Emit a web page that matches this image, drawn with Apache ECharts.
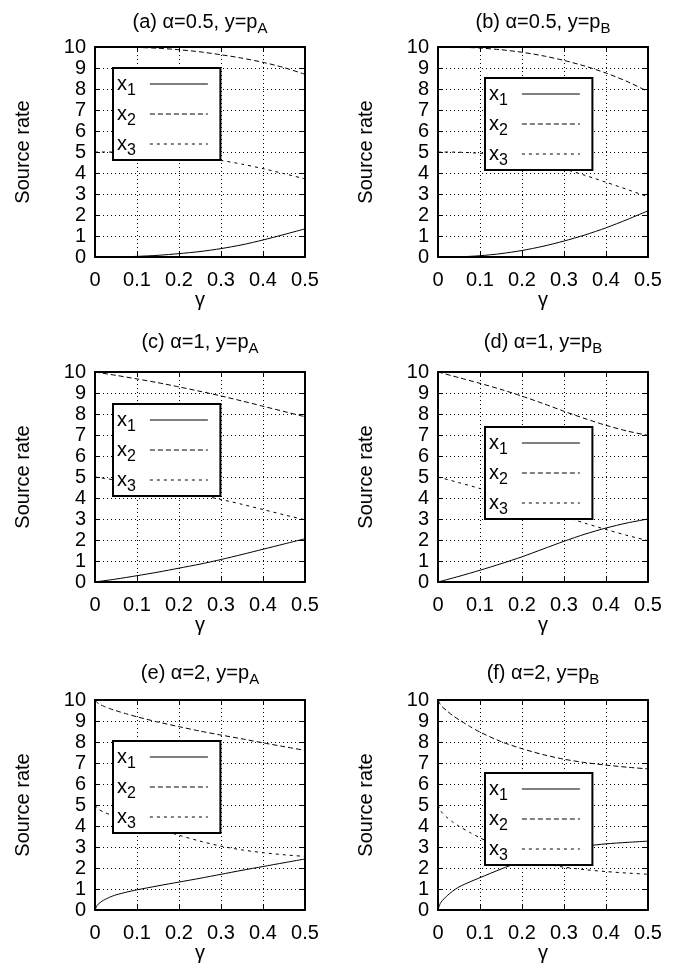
<!DOCTYPE html>
<html>
<head>
<meta charset="utf-8">
<script src="https://cdn.jsdelivr.net/npm/echarts@6/dist/echarts.min.js"></script>
<style>
html,body{margin:0;padding:0;background:#fff;}
#chart{width:686px;height:974px;}
</style>
</head>
<body>
<div id="chart"></div>
<script>
// ---------------- data ----------------
const panelTitles = [
  ['(a) α=0.5, y=p', 'A'],
  ['(b) α=0.5, y=p', 'B'],
  ['(c) α=1, y=p', 'A'],
  ['(d) α=1, y=p', 'B'],
  ['(e) α=2, y=p', 'A'],
  ['(f) α=2, y=p', 'B']
];
const seriesNames = ['x1', 'x2', 'x3'];
const xTickLabels = ['0', '0.1', '0.2', '0.3', '0.4', '0.5'];
const yTickLabels = ['0', '1', '2', '3', '4', '5', '6', '7', '8', '9', '10'];
const xAxisName = 'γ';
const yAxisName = 'Source rate';

// gamma sampling for panels a-d
const gammaAD = [0, 0.05, 0.1, 0.15, 0.2, 0.25, 0.3, 0.35, 0.4, 0.45, 0.5];
// gamma sampling for panels e-f (denser near 0)
const gammaEF = [0, 0.005, 0.01, 0.02, 0.035, 0.05, 0.075, 0.1, 0.15, 0.2, 0.25, 0.3, 0.35, 0.4, 0.45, 0.5];

const aX1 = [0, 0.005, 0.03, 0.08, 0.16, 0.26, 0.40, 0.58, 0.81, 1.07, 1.34];
const aX2 = [10, 9.995, 9.98, 9.94, 9.87, 9.77, 9.63, 9.47, 9.27, 9.02, 8.70];
const aX3 = [5, 4.995, 4.98, 4.93, 4.85, 4.74, 4.60, 4.42, 4.21, 3.97, 3.72];

const bX1 = [0, 0.01, 0.06, 0.16, 0.31, 0.51, 0.76, 1.05, 1.39, 1.78, 2.20];
const bX2 = [10, 9.99, 9.95, 9.87, 9.75, 9.58, 9.36, 9.09, 8.76, 8.36, 7.88];
const bX3 = [5, 4.99, 4.94, 4.84, 4.68, 4.46, 4.19, 3.89, 3.56, 3.22, 2.86];

const cX1 = [0, 0.14, 0.30, 0.47, 0.66, 0.85, 1.07, 1.31, 1.56, 1.81, 2.06];
const cX2 = [10, 9.84, 9.67, 9.49, 9.29, 9.08, 8.86, 8.62, 8.37, 8.12, 7.87];
const cX3 = [5, 4.85, 4.68, 4.51, 4.33, 4.14, 3.93, 3.70, 3.45, 3.20, 2.96];

const dX1 = [0, 0.27, 0.56, 0.87, 1.20, 1.57, 1.94, 2.28, 2.57, 2.81, 3.00];
const dX2 = [10, 9.73, 9.46, 9.17, 8.85, 8.50, 8.13, 7.78, 7.46, 7.19, 6.98];
const dX3 = [5, 4.73, 4.45, 4.13, 3.79, 3.45, 3.12, 2.80, 2.50, 2.22, 1.97];

const eX1 = [0, 0.22, 0.32, 0.46, 0.61, 0.72, 0.85, 0.96, 1.15, 1.33, 1.51, 1.70, 1.89, 2.07, 2.25, 2.43];
const eX2 = [10, 9.88, 9.81, 9.71, 9.59, 9.49, 9.34, 9.20, 8.95, 8.73, 8.52, 8.33, 8.15, 7.96, 7.78, 7.60];
const eX3 = [5, 4.86, 4.78, 4.67, 4.55, 4.45, 4.30, 4.16, 3.86, 3.56, 3.28, 3.04, 2.86, 2.73, 2.63, 2.55];

const fX1 = [0, 0.30, 0.44, 0.65, 0.90, 1.10, 1.33, 1.54, 1.95, 2.33, 2.65, 2.88, 3.04, 3.15, 3.22, 3.28];
const fX2 = [10, 9.80, 9.68, 9.50, 9.26, 9.06, 8.75, 8.47, 8.02, 7.68, 7.40, 7.18, 7.02, 6.90, 6.80, 6.72];
const fX3 = [5, 4.78, 4.63, 4.43, 4.19, 3.99, 3.70, 3.44, 2.94, 2.50, 2.22, 2.04, 1.92, 1.83, 1.76, 1.70];

const panelGamma = [gammaAD, gammaAD, gammaAD, gammaAD, gammaEF, gammaEF];
const panelValues = [
  [aX1, aX2, aX3],
  [bX1, bX2, bX3],
  [cX1, cX2, cX3],
  [dX1, dX2, dX3],
  [eX1, eX2, eX3],
  [fX1, fX2, fX3]
];

// ---------------- layout / style ----------------
const FONT = "'Liberation Sans', Arial, Helvetica, sans-serif";
const colLeft = [95, 438];
const rowTop = [47, 372, 700];
const rowTitleTop = [10, 330, 661];
const plotW = 210, plotH = 210;
const legendPos = [[113, 68], [485, 78], [113, 404], [485, 427], [113, 741], [485, 773]];
const lineTypes = ['solid', [5, 3], [3, 4]];

const grids = [], xAxes = [], yAxes = [], titles = [], legends = [], series = [];

for (let p = 0; p < 6; p++) {
  const col = p % 2, row = Math.floor(p / 2);
  grids.push({ left: colLeft[col], top: rowTop[row], width: plotW, height: plotH });
}
// bottom x axes
for (let p = 0; p < 6; p++) {
  xAxes.push({
    type: 'value', gridIndex: p, position: 'bottom', min: 0, max: 0.5, interval: 0.1,
    name: xAxisName, nameLocation: 'middle', nameGap: 31,
    nameTextStyle: { fontFamily: FONT, fontSize: 20, color: '#000' },
    axisLine: { onZero: false, lineStyle: { color: '#000', width: 2 } },
    axisTick: { inside: true, length: 5, lineStyle: { color: '#000', width: 1 } },
    axisLabel: { fontFamily: FONT, fontSize: 20, color: '#000', margin: 13,
      formatter: v => xTickLabels[Math.round(v * 10)] },
    splitLine: { show: true, lineStyle: { color: '#000', width: 1, type: [1, 3] } }
  });
}
// top x axes (frame + mirrored ticks)
for (let p = 0; p < 6; p++) {
  xAxes.push({
    type: 'value', gridIndex: p, position: 'top', min: 0, max: 0.5, interval: 0.1,
    axisLine: { onZero: false, lineStyle: { color: '#000', width: 2 } },
    axisTick: { inside: true, length: 5, lineStyle: { color: '#000', width: 1 } },
    axisLabel: { show: false }, splitLine: { show: false }
  });
}
// left y axes
for (let p = 0; p < 6; p++) {
  yAxes.push({
    type: 'value', gridIndex: p, position: 'left', min: 0, max: 10, interval: 1,
    name: yAxisName, nameLocation: 'middle', nameGap: 62, nameRotate: 90,
    nameTextStyle: { fontFamily: FONT, fontSize: 20, color: '#000' },
    axisLine: { onZero: false, lineStyle: { color: '#000', width: 2 } },
    axisTick: { inside: true, length: 5, lineStyle: { color: '#000', width: 1 } },
    axisLabel: { fontFamily: FONT, fontSize: 20, color: '#000', margin: 9,
      formatter: v => yTickLabels[Math.round(v)] },
    splitLine: { show: true, lineStyle: { color: '#000', width: 1, type: [1, 3] } }
  });
}
// right y axes
for (let p = 0; p < 6; p++) {
  yAxes.push({
    type: 'value', gridIndex: p, position: 'right', min: 0, max: 10, interval: 1,
    axisLine: { onZero: false, lineStyle: { color: '#000', width: 2 } },
    axisTick: { inside: true, length: 5, lineStyle: { color: '#000', width: 1 } },
    axisLabel: { show: false }, splitLine: { show: false }
  });
}

for (let p = 0; p < 6; p++) {
  const col = p % 2, row = Math.floor(p / 2);
  titles.push({
    text: '{m|' + panelTitles[p][0] + '}{s|' + panelTitles[p][1] + '}',
    left: colLeft[col] + plotW / 2, top: rowTitleTop[row], textAlign: 'center', padding: 0,
    textStyle: {
      fontFamily: FONT, fontSize: 20, color: '#000', fontWeight: 'normal', lineHeight: 24,
      rich: {
        m: { fontFamily: FONT, fontSize: 20, color: '#000', lineHeight: 24 },
        s: { fontFamily: FONT, fontSize: 15, color: '#000', height: 15, lineHeight: 24, padding: [13, 0, 0, 0] }
      }
    }
  });
  legends.push({
    orient: 'vertical', left: legendPos[p][0], top: legendPos[p][1],
    align: 'right', itemWidth: 58, itemHeight: 14, itemGap: 0,
    padding: [1, 12, 1, 4], selectedMode: false,
    backgroundColor: '#fff', borderColor: '#000', borderWidth: 2, borderRadius: 0,
    data: seriesNames,
    itemStyle: { color: 'rgba(0,0,0,0)', opacity: 0, borderWidth: 0 },
    lineStyle: { width: 1, color: '#000' },
    formatter: name => '{b|x}{s|' + name.slice(1) + '}',
    textStyle: {
      fontFamily: FONT, fontSize: 20, color: '#000', lineHeight: 20, padding: [0, 9, 0, 0],
      rich: {
        b: { fontFamily: FONT, fontSize: 20, color: '#000', lineHeight: 20 },
        s: { fontFamily: FONT, fontSize: 16, color: '#000', height: 16, lineHeight: 20, padding: [14, 0, 0, 0] }
      }
    }
  });
  for (let k = 0; k < 3; k++) {
    const g = panelGamma[p], vals = panelValues[p][k];
    series.push({
      name: seriesNames[k], type: 'line', xAxisIndex: p, yAxisIndex: p,
      data: g.map((x, i) => [x, vals[i]]),
      symbol: 'none', showSymbol: false, smooth: 0.25,
      lineStyle: { color: '#000', width: 1, type: lineTypes[k] },
      itemStyle: { color: '#000' },
      silent: true
    });
  }
}

const chart = echarts.init(document.getElementById('chart'), null, { renderer: 'canvas' });
chart.setOption({
  animation: false,
  backgroundColor: '#fff',
  title: titles,
  legend: legends,
  grid: grids,
  xAxis: xAxes,
  yAxis: yAxes,
  series: series
});
</script>
</body>
</html>
